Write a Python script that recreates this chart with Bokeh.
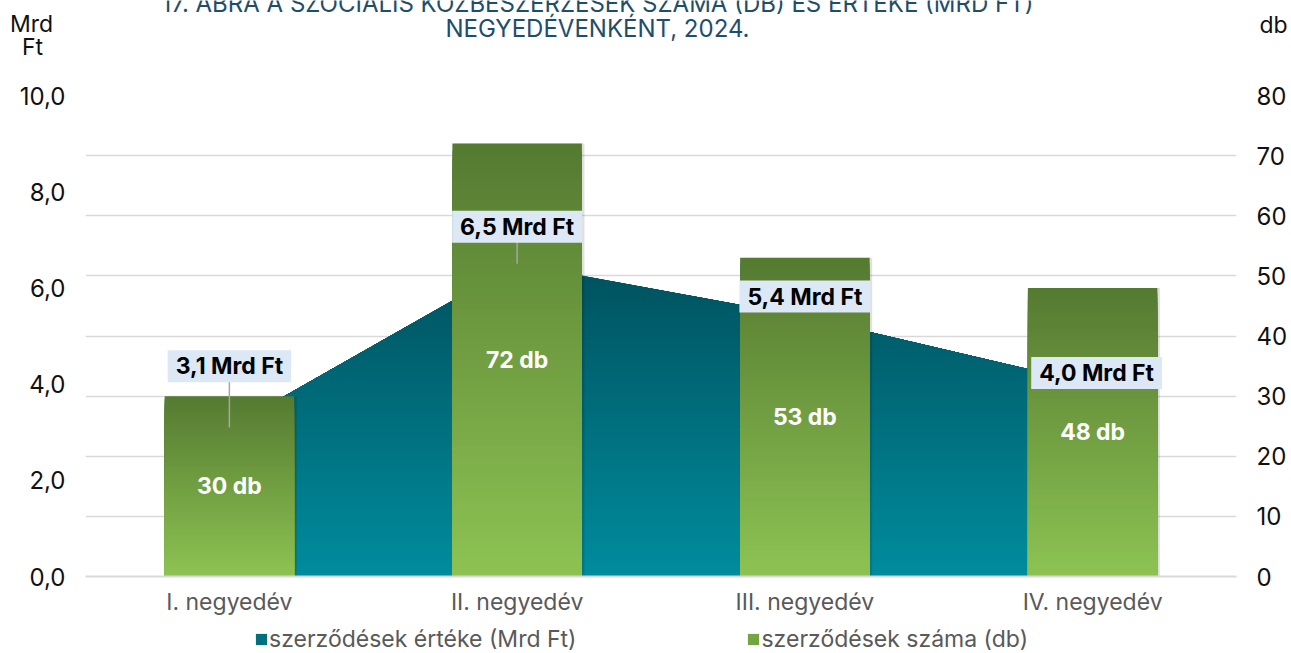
from bokeh.plotting import figure
from bokeh.layouts import column
from bokeh.models import (FactorRange, Range1d, LinearAxis, FixedTicker, CustomJSTickFormatter,
                          ColumnDataSource, Legend, LegendItem)
from bokeh.transform import dodge
from bokeh.core.properties import value
from bokeh.embed import file_html
from bokeh.resources import INLINE

# ---------------- data ----------------
categories = ["I. negyedév", "II. negyedév", "III. negyedév", "IV. negyedév"]
ertek_mrd = [3.1, 6.5, 5.4, 4.0]
szam_db = [30, 72, 53, 48]
ertek_labels = ["3,1 Mrd Ft", "6,5 Mrd Ft", "5,4 Mrd Ft", "4,0 Mrd Ft"]
szam_labels = ["30 db", "72 db", "53 db", "48 db"]
left_ticks = [0, 2, 4, 6, 8, 10]
right_ticks = [0, 10, 20, 30, 40, 50, 60, 70, 80]
legend_labels = ["szerződések értéke (Mrd Ft)", "szerződések száma (db)"]
title_lines = ["17. ÁBRA A SZOCIÁLIS KÖZBESZERZÉSEK SZÁMA (DB) ÉS ÉRTÉKE (MRD FT)",
               "NEGYEDÉVENKÉNT, 2024."]
left_unit = ["Mrd", "Ft"]
right_unit = ["db"]

# ---------------- style ----------------
FONT = "Inter"
W = 1291
HEAD_H, MAIN_H, LEG_H = 70, 550, 33
bar_top_col, bar_bot_col = "#557a31", "#8dc353"
area_top_col, area_bot_col = "#00515d", "#008c9e"
label_dy = [1.27, 0.77, 0.42, 0.23]      # label lift above point (Mrd Ft units)
label_dx_px = [0, 0, 0, 4]
leader = [True, True, False, False]


def hex2rgb(h):
    h = h.lstrip("#")
    return tuple(int(h[i:i + 2], 16) for i in (0, 2, 4))


def lerp(c0, c1, t):
    a, b = hex2rgb(c0), hex2rgb(c1)
    return "#%02x%02x%02x" % tuple(int(round(a[i] + (b[i] - a[i]) * t)) for i in range(3))


def clip_below(poly, y0):
    """keep part of polygon with y <= y0"""
    out = []
    n = len(poly)
    for i in range(n):
        P, Q = poly[i], poly[(i + 1) % n]
        pin, qin = P[1] <= y0, Q[1] <= y0
        if qin:
            if not pin:
                t = (y0 - P[1]) / (Q[1] - P[1])
                out.append((P[0] + t * (Q[0] - P[0]), y0))
            out.append(Q)
        elif pin:
            t = (y0 - P[1]) / (Q[1] - P[1])
            out.append((P[0] + t * (Q[0] - P[0]), y0))
    return out


def blank(h):
    f = figure(width=W, height=h, x_range=Range1d(0, W), y_range=Range1d(h, 0),
               x_axis_type=None, y_axis_type=None, output_backend="svg", toolbar_location=None,
               min_border_left=0, min_border_right=0, min_border_top=0, min_border_bottom=0,
               frame_align=False)
    f.outline_line_color = None
    f.grid.grid_line_color = None
    return f


# ---------------- header (title + unit labels) ----------------
head = blank(HEAD_H)
head.text(x=[597, 597], y=[3, 28], text=title_lines, text_font=value(FONT), text_font_size="24px",
          text_color="#1f4e6b", text_align="center", text_baseline="alphabetic")
head.text(x=[31, 32], y=[23, 46], text=left_unit, text_font=value(FONT), text_font_size="23px",
          text_color="#111111", text_align="center", text_baseline="alphabetic")
head.text(x=[1273], y=[24], text=right_unit, text_font=value(FONT), text_font_size="23px",
          text_color="#111111", text_align="center", text_baseline="alphabetic")

# ---------------- main chart ----------------
p = figure(x_range=FactorRange(*categories), y_range=Range1d(0, 10),
           width=W, height=MAIN_H, output_backend="svg", toolbar_location=None,
           min_border_left=85, min_border_right=55, min_border_top=25, min_border_bottom=44,
           frame_align=False)
p.extra_y_ranges = {"db": Range1d(0, 80)}
p.outline_line_color = None

p.xgrid.grid_line_color = None
p.ygrid.grid_line_color = "#d9d9d9"
p.ygrid.grid_line_width = 1.5
p.ygrid[0].y_range_name = "db"
p.ygrid[0].ticker = FixedTicker(ticks=right_ticks[1:])

p.yaxis.ticker = FixedTicker(ticks=left_ticks)
p.yaxis.formatter = CustomJSTickFormatter(code="return tick.toFixed(1).replace('.', ',');")
ax_r = LinearAxis(y_range_name="db", ticker=FixedTicker(ticks=right_ticks))
p.add_layout(ax_r, "right")
for ax in [p.yaxis[0], ax_r]:
    ax.axis_line_color = None
    ax.major_tick_line_color = None
    ax.minor_tick_line_color = None
    ax.major_tick_out = 0
    ax.major_tick_in = 0
    ax.minor_tick_out = 0
    ax.major_label_text_font = FONT
    ax.major_label_text_font_size = "24px"
    ax.major_label_text_color = "#111111"
    ax.major_label_standoff = 20

p.xaxis.axis_line_color = "#d9d9d9"
p.xaxis.axis_line_width = 2
p.xaxis.major_tick_line_color = None
p.xaxis.minor_tick_line_color = None
p.xaxis.major_tick_out = 0
p.xaxis.major_tick_in = 0
p.xaxis.major_label_text_font = FONT
p.xaxis.major_label_text_font_size = "23px"
p.xaxis.major_label_text_color = "#595959"
p.xaxis.major_label_standoff = 11

# ---- area with vertical gradient (stacked, shrinking layers, drawn top colour first) ----
n = len(categories)
poly = [(0.5, 0.0)] + [(i + 0.5, v) for i, v in enumerate(ertek_mrd)] + [(n - 0.5, 0.0)]
vmax = max(ertek_mrd)
M = 70
axs, ays, acol = [], [], []
for k in range(M, 0, -1):
    hi = vmax * k / M
    band = clip_below(poly, hi)
    if len(band) >= 3:
        axs.append([q[0] for q in band])
        ays.append([q[1] for q in band])
        acol.append(lerp(area_bot_col, area_top_col, (k - 0.5) / M))
p.patches(xs="xs", ys="ys", source=ColumnDataSource(dict(xs=axs, ys=ays, c=acol)),
          fill_color="c", line_color=None)

# ---- bars with gradient ----
p.vbar(x=dodge("x", 0.009, range=p.x_range), top="t", width=0.45,
       source=ColumnDataSource(dict(x=categories, t=szam_db)),
       fill_color="black", fill_alpha=0.12, line_color=None, y_range_name="db")
N = 60
bx, bt, bc = [], [], []
for k in range(N, 0, -1):
    for c, v in zip(categories, szam_db):
        bx.append(c)
        bt.append(v * k / N)
        bc.append(lerp(bar_bot_col, bar_top_col, (k - 0.5) / N))
p.vbar(x="x", bottom=0, top="t", width=0.45,
       source=ColumnDataSource(dict(x=bx, t=bt, c=bc)),
       fill_color="c", line_color=None, y_range_name="db")

# bar value labels
p.text(x="x", y="y", text="t",
       source=ColumnDataSource(dict(x=categories, y=[v / 2 for v in szam_db], t=szam_labels)),
       y_range_name="db", text_font=value(FONT), text_font_size="23px", text_font_style="bold",
       text_color="white", text_align="center", text_baseline="middle")

# leader lines
lx = [c for c, f in zip(categories, leader) if f]
ly0 = [v for v, f in zip(ertek_mrd, leader) if f]
ly1 = [v + d for v, d, f in zip(ertek_mrd, label_dy, leader) if f]
p.segment(x0="x", y0="y0", x1="x", y1="y1", source=ColumnDataSource(dict(x=lx, y0=ly0, y1=ly1)),
          line_color="#a6a6a6", line_width=1.5)

# value labels (Mrd Ft)
p.text(x="x", y="y", text="t", x_offset="xo",
       source=ColumnDataSource(dict(x=categories, y=[v + d for v, d in zip(ertek_mrd, label_dy)],
                                    t=ertek_labels, xo=label_dx_px)),
       text_font=value(FONT), text_font_size="23px", text_font_style="bold",
       text_color="#000000", text_align="center", text_baseline="middle",
       background_fill_color="#dce8f5", padding=dict(left=8, right=8, top=2, bottom=2))

# ---------------- legend row ----------------
lf = blank(LEG_H)
d1 = lf.rect(x=[-1000], y=[-1000], width=1, height=1, fill_color="#00707f", line_color=None)
d2 = lf.rect(x=[-1000], y=[-1000], width=1, height=1, fill_color="#73a543", line_color=None)
leg = Legend(items=[LegendItem(label=legend_labels[0], renderers=[d1]),
                    LegendItem(label=legend_labels[1], renderers=[d2])],
             location=(254, 0), orientation="horizontal", glyph_width=14, glyph_height=14,
             label_standoff=1, spacing=170, padding=0, margin=0, border_line_color=None,
             background_fill_alpha=0, label_text_font=FONT, label_text_font_size="23px",
             label_text_color="#595959")
lf.add_layout(leg, "center")

root = column(head, p, lf, spacing=0)
open("out.html", "w").write(file_html(root, INLINE))
